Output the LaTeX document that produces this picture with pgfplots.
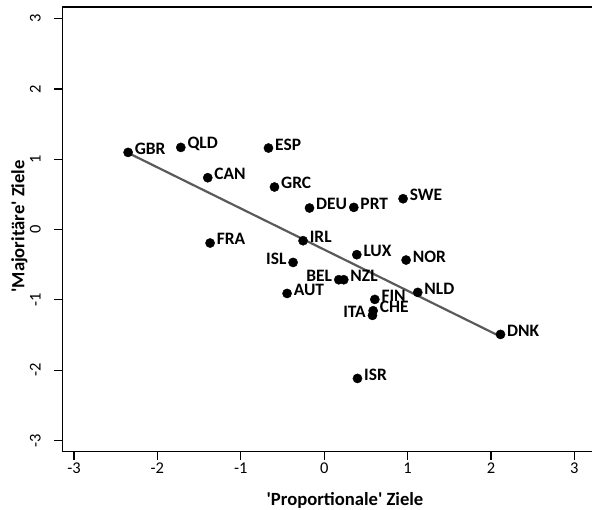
\documentclass[border=0pt]{standalone}
\usepackage{fontspec}
\setmainfont{Carlito}
\usepackage{pgfplots}
\usepackage{pgfplotstable}
\pgfplotsset{compat=1.18}
\definecolor{fitgray}{HTML}{5A5A5A}

\pgfplotstableread{
x y label
-2.351 1.097 GBR
-1.719 1.168 QLD
-0.668 1.159 ESP
-1.396 0.737 CAN
-0.596 0.605 GRC
-0.176 0.306 DEU
-1.368 -0.192 FRA
-0.253 -0.159 IRL
0.355 0.315 PRT
0.946 0.438 SWE
0.391 -0.358 LUX
0.982 -0.434 NOR
0.235 -0.714 NZL
-0.445 -0.909 AUT
0.607 -0.994 FIN
1.122 -0.894 NLD
0.587 -1.155 CHE
2.114 -1.492 DNK
0.399 -2.118 ISR
}\rightpts

\pgfplotstableread{
x y label
-0.373 -0.468 ISL
0.175 -0.714 BEL
0.579 -1.221 ITA
}\leftpts

\begin{document}
\begin{tikzpicture}
\begin{axis}[
  scale only axis,
  width=529.7bp, height=444.4bp,
  xmin=-3.14, xmax=3.211, ymin=-3.16, ymax=3.161,
  axis x line=box, axis y line=left,
  axis line style={-, line width=1.6pt},
  xtick={-3,-2,-1,0,1,2,3}, ytick={-3,-2,-1,0,1,2,3},
  xtick pos=bottom, ytick pos=left,
  tick align=outside,
  major tick length=8bp,
  tick style={line width=1.2pt, black},
  /pgf/number format/assume math mode=true,
  ticklabel style={font=\fontsize{16.5}{18}\selectfont},
  yticklabel style={rotate=90, anchor=center, yshift=19bp},
  xticklabel style={anchor=center, yshift=-8.5bp},
  xlabel={\textbf{\textquotesingle Proportionale\textquotesingle\ Ziele}},
  ylabel={\textbf{\textquotesingle Majoritäre\textquotesingle\ Ziele}},
  xlabel style={at={(axis description cs:0.5337,0)}, anchor=center, yshift=-49bp},
  ylabel style={at={(axis description cs:0,0.507)}, anchor=center, yshift=43bp},
  label style={font=\fontsize{18.7}{20}\selectfont},
  clip=false,
]
\coordinate (sw) at (rel axis cs:0,0);
\coordinate (ne) at (rel axis cs:1,1);
\addplot[fitgray, line width=2.2pt] coordinates {(-2.351,1.09) (2.11,-1.52)};
\addplot[only marks, mark=*, mark size=4.6bp, black,
  nodes near coords, point meta=explicit symbolic,
  nodes near coords style={anchor=west, xshift=5.5bp, yshift=3.7bp, inner sep=1pt,
    font=\fontsize{17.5}{19}\selectfont\bfseries}]
  table[meta=label] {\rightpts};
\addplot[only marks, mark=*, mark size=4.6bp, black,
  nodes near coords, point meta=explicit symbolic,
  nodes near coords style={anchor=east, xshift=-5.5bp, yshift=3.7bp, inner sep=1pt,
    font=\fontsize{17.5}{19}\selectfont\bfseries}]
  table[meta=label] {\leftpts};
\end{axis}
\pgfresetboundingbox
\path[use as bounding box] ([shift={(-62.3bp,-58.3bp)}]sw) rectangle ([shift={(0bp,7.3bp)}]ne);
\end{tikzpicture}
\end{document}
